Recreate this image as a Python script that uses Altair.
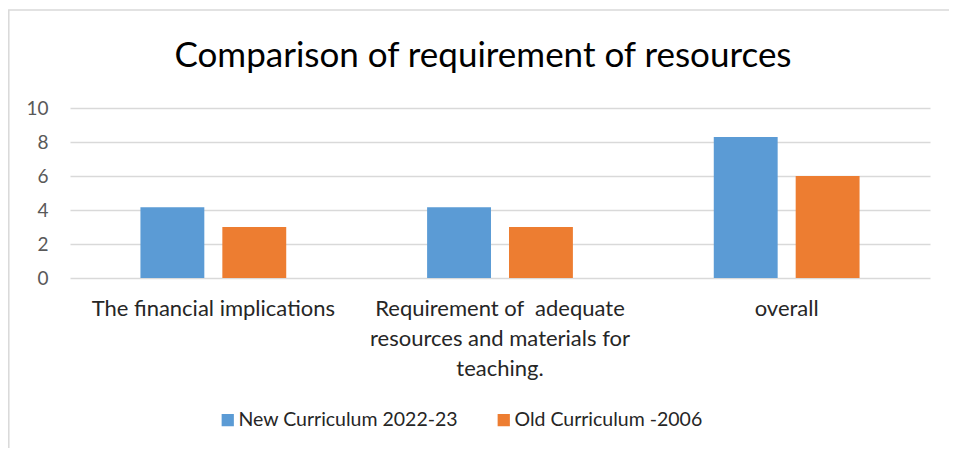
import altair as alt
import pandas as pd

categories = ["The financial implications",
              "Requirement of\u00a0 adequate|resources and materials for|teaching.",
              "overall"]
series = ["New Curriculum 2022-23", "Old Curriculum -2006"]
new_values = [4.16, 4.16, 8.3]
old_values = [3, 3, 6]
colors = ["#5B9BD5", "#ED7D31"]

rows = []
for c, v in zip(categories, new_values):
    rows.append({"category": c, "series": series[0], "value": v})
for c, v in zip(categories, old_values):
    rows.append({"category": c, "series": series[1], "value": v})
df = pd.DataFrame(rows)

FONT = "Lato"

bars = alt.Chart(df).mark_bar().encode(
    x=alt.X("category:N", sort=categories,
            scale=alt.Scale(paddingInner=0, paddingOuter=0),
            axis=alt.Axis(title=None, labelAngle=0, labelExpr="split(datum.label, '|')",
                          labelFontSize=22, labelColor="#262626", labelFont=FONT,
                          labelLineHeight=30, labelPadding=20, ticks=False,
                          domain=False, labelLimit=400)),
    xOffset=alt.XOffset("series:N", sort=series,
                        scale=alt.Scale(paddingInner=0.22, paddingOuter=0.86)),
    y=alt.Y("value:Q", scale=alt.Scale(domain=[0, 10]),
            axis=alt.Axis(title=None, values=[0, 2, 4, 6, 8, 10], labelFontSize=19,
                          labelColor="#595959", labelFont=FONT, ticks=False, domain=False,
                          labelPadding=22, gridColor="#D9D9D9", gridWidth=1.5)),
    color=alt.Color("series:N", sort=series,
                    scale=alt.Scale(domain=series, range=colors),
                    legend=alt.Legend(title=None, orient="none", direction="horizontal",
                                      legendX=148, legendY=302, symbolType="square",
                                      symbolSize=150, symbolStrokeWidth=0,
                                      labelFontSize=19.5, labelFont=FONT, labelColor="#262626",
                                      labelLimit=400, labelOffset=1, columnPadding=36,
                                      symbolOffset=0)),
)

border = alt.Chart(pd.DataFrame({"b": [0]})).mark_rect(
    fill=None, stroke="#D9D9D9", strokeWidth=1.5
).encode(x=alt.value(-61.2), x2=alt.value(1000), y=alt.value(-98), y2=alt.value(500))

chart = alt.layer(border, bars).properties(
    width=860, height=170,
    autosize=alt.AutoSizeParams(type="none"),
    padding={"left": 62, "top": 100, "right": 19, "bottom": 170},
    title=alt.TitleParams("Comparison of requirement of resources", fontSize=35,
                          font=FONT, fontWeight="normal", color="#000000",
                          anchor="middle", frame="group", dx=-17, offset=-65),
).configure_view(stroke=None)

chart.save("out.html", embed_options={"renderer": "svg", "actions": False})
